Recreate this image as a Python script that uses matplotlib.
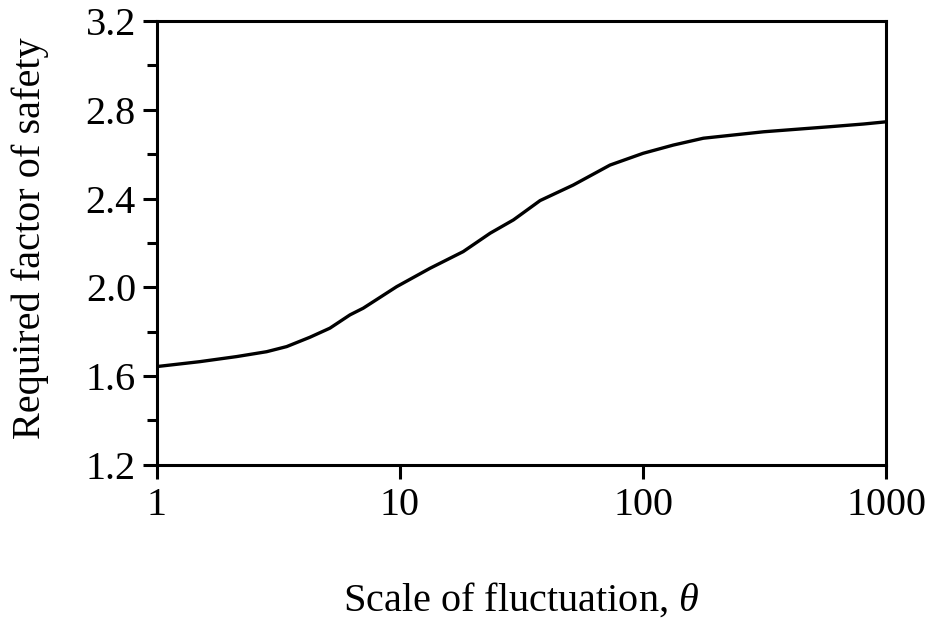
import matplotlib
matplotlib.use("Agg")
import matplotlib.pyplot as plt
from matplotlib.ticker import FixedLocator, NullLocator, FuncFormatter

plt.rcParams['font.family'] = ['Liberation Serif', 'DejaVu Serif']
plt.rcParams['mathtext.fontset'] = 'custom'
plt.rcParams['mathtext.rm'] = 'Liberation Serif'
plt.rcParams['mathtext.it'] = 'Liberation Serif:italic'

# scale of fluctuation vs required factor of safety
theta = [1, 1.5, 2.13, 2.83, 3.42, 4.26, 5.15, 6.23, 7.06, 9.69, 13.3, 18.2,
         23.5, 29.3, 37.7, 51.6, 73.1, 100, 133, 177, 313, 589, 807, 1000]
fos = [1.643, 1.665, 1.688, 1.710, 1.733, 1.775, 1.816, 1.876, 1.906, 2.003,
       2.086, 2.161, 2.244, 2.304, 2.391, 2.461, 2.551, 2.604, 2.641, 2.672,
       2.701, 2.724, 2.736, 2.746]

x_ticks = [1, 10, 100, 1000]
y_ticks = [1.2, 1.6, 2.0, 2.4, 2.8, 3.2]
y_minor = [1.4, 1.8, 2.2, 2.6, 3.0]

fig = plt.figure(figsize=(9.28, 6.19), dpi=100)
ax = fig.add_axes([0.169, 0.249, 0.786, 0.717])

ax.plot(theta, fos, color='black', lw=2.4)

ax.set_xscale('log')
ax.set_xlim(1, 1000)
ax.set_ylim(1.2, 3.2)

ax.xaxis.set_major_locator(FixedLocator(x_ticks))
ax.xaxis.set_minor_locator(NullLocator())
ax.xaxis.set_major_formatter(FuncFormatter(lambda v, p: '%d' % v))
ax.yaxis.set_major_locator(FixedLocator(y_ticks))
ax.yaxis.set_minor_locator(FixedLocator(y_minor))
ax.yaxis.set_major_formatter(FuncFormatter(lambda v, p: '%.1f' % v))

ax.tick_params(axis='both', which='major', direction='out', length=10,
               width=2.2, labelsize=29, pad=5)
ax.tick_params(axis='y', which='minor', direction='out', length=7, width=2.2)
ax.tick_params(axis='x', which='major', pad=6)

for s in ax.spines.values():
    s.set_linewidth(2.2)
    s.set_color('black')

ax.set_xlabel(r'Scale of fluctuation, $\theta$', fontsize=29)
ax.xaxis.set_label_coords(0.5, -0.262)
ax.set_ylabel('Required factor of safety', fontsize=29)
ax.yaxis.set_label_coords(-0.148, 0.51)

fig.savefig('out.png', dpi=100)
